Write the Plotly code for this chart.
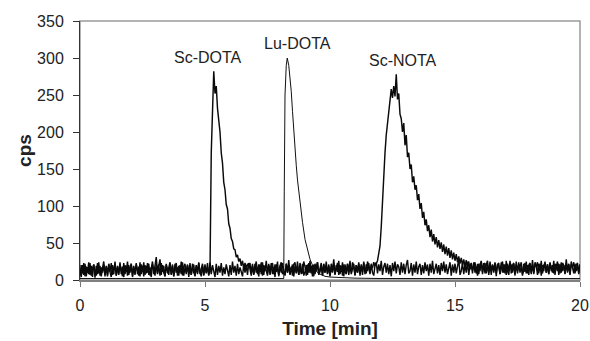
import plotly.graph_objects as go

# ---------------- data ----------------
time_step = 0.05  # min between samples of the noisy detector traces

sc_dota_pre = [
    6, 20, 9, 23, 5, 18, 10, 24, 7, 19,
    4, 21, 12, 6, 23, 9, 19, 5, 16, 25,
    8, 18, 5, 21, 11, 23, 7, 17, 22, 6,
    19, 9, 24, 8, 18, 4, 20, 11, 25, 7,
    17, 22, 6, 19, 9, 23, 8, 18, 5, 21,
    11, 24, 7, 19, 10, 22, 6, 17, 25, 8,
    18, 31, 9, 21, 6, 23, 11, 19, 5, 22,
    9, 18, 24, 7, 21, 5, 16, 23, 6, 19,
    10, 25, 6, 18, 22, 8, 20, 9, 23, 7,
    17, 21, 5, 19, 10, 24, 8, 18, 22, 6,
    19, 9, 23, 7, 12,
]
sc_dota_peak = [
    172, 246, 282, 252, 262, 232, 218, 200, 172, 158,
    132, 122, 102, 96, 76, 70, 56, 52, 42, 41,
    31, 34, 25, 29, 19, 26, 16, 23, 14, 22,
]
sc_dota_post = [
    18, 23, 9, 22, 7, 19, 25, 8, 21, 11,
    24, 6, 20, 12, 26, 9, 22, 7, 18, 23,
    8, 21, 11, 25, 5, 19, 10, 23, 13, 7,
    22, 10, 27, 8, 18, 6, 21, 24, 9, 19,
    7, 23, 12, 9, 25, 18, 6, 21, 10, 26,
    9, 20, 5, 22, 12, 24, 8, 18, 23, 7,
    21, 10, 25, 9, 19, 6, 22, 12, 28, 8,
    18, 23, 7, 20, 11, 24, 5, 21, 9, 22,
    12, 26, 8, 18, 22, 6, 20, 10, 24, 9,
    21, 7, 23, 12, 9, 25, 18, 8, 22, 10,
    6, 20, 24, 9, 21, 12, 26, 7, 18, 23,
    10, 22, 8, 20, 5, 23, 12, 25, 9, 21,
    18, 7, 24, 10, 22, 8, 20, 27, 9, 12,
    23, 6, 21, 10, 25, 8, 18, 22, 7, 20,
    9, 24, 12, 21, 6, 22, 10, 26, 8, 18,
    22, 9, 20, 7, 23, 12, 25, 10, 21, 8,
    18, 24, 6, 21, 10, 22, 9, 20, 28, 7,
    12, 23, 8, 21, 10, 25, 7, 20, 22, 9,
    24, 10, 18, 6, 22, 12, 26, 8, 20, 23,
    9, 21, 7, 25, 12, 20, 10, 23, 5, 22,
    18, 8, 24, 10, 21, 9, 26, 12, 7, 23,
    20, 10, 22, 6, 25, 9, 21, 18, 24, 8,
    12, 23, 9, 20, 7, 22, 10, 27, 8, 21,
    18, 24, 9, 22, 6, 20, 12, 25, 10, 21,
    8, 23, 18, 10, 26, 7, 21, 12, 22, 9,
    24, 12, 20, 8, 23, 10, 21, 7, 25, 18,
    9, 22, 12, 20, 8, 21,
]

sc_nota_pre = [
    14, 4, 20, 7, 22, 5, 17, 8, 23, 6,
    16, 21, 3, 19, 8, 24, 6, 17, 10, 21,
    5, 19, 7, 22, 11, 4, 20, 8, 25, 6,
    17, 7, 21, 10, 5, 23, 8, 19, 6, 20,
    10, 22, 4, 17, 7, 21, 11, 6, 24, 8,
    19, 5, 20, 9, 23, 7, 17, 4, 21, 11,
    6, 22, 8, 19, 28, 7, 20, 10, 5, 21,
    11, 7, 23, 8, 19, 5, 22, 10, 17, 6,
    20, 8, 24, 6, 17, 10, 21, 4, 19, 7,
    22, 10, 6, 20, 8, 23, 11, 5, 19, 7,
    21, 10, 17, 6, 24, 8, 20, 11, 4, 22,
    7, 19, 10, 23, 6, 17, 8, 21, 11, 5,
    20, 7, 25, 10, 19, 6, 22, 8, 17, 11,
    5, 21, 10, 20, 7, 23, 11, 6, 19, 8,
    22, 10, 17, 5, 21, 8, 24, 7, 19, 11,
    6, 20, 10, 23, 8, 17, 4, 21, 11, 7,
    19, 24, 8, 11, 6, 22, 10, 20, 7, 17,
    21, 5, 19, 10, 25, 7, 17, 8, 22, 6,
    11, 20, 7, 23, 10, 19, 5, 21, 8, 17,
    24, 7, 11, 20, 6, 22, 10, 19, 8, 21,
    5, 17, 10, 23, 7, 20, 11, 26, 8, 19,
    6, 21, 11, 8, 22, 7, 19, 10, 24, 17,
    7, 20, 10, 22, 6, 19, 11, 25, 8, 21,
    12, 23, 10, 20, 16, 24, 19,
]
sc_nota_peak = [
    22, 26, 36, 46, 72, 105, 150, 172, 196, 214,
    232, 240, 258, 246, 262, 248, 278, 244, 252, 224,
    218, 200, 212, 182, 196, 166, 172, 150, 156, 132,
    140, 122, 128, 108, 116, 96, 104, 84, 92, 74,
    82, 66, 74, 58, 68, 52, 62, 48, 58, 44,
    54, 42, 51, 38, 48, 35, 45, 33, 43, 30,
    40, 28, 37, 26, 35, 24, 32, 22, 30, 20,
    28, 18, 27, 16, 25, 14, 23, 13,
]
sc_nota_post = [
    19, 24, 9, 22, 8, 21, 25, 11, 23, 9,
    20, 26, 10, 22, 7, 21, 12, 24, 9, 20,
    23, 8, 19, 25, 10, 21, 7, 22, 12, 26,
    9, 20, 23, 8, 21, 12, 24, 10, 19, 6,
    22, 11, 25, 9, 20, 23, 8, 21, 10, 24,
    19, 7, 22, 12, 26, 9, 20, 23, 10, 21,
    8, 24, 12, 20, 9, 22, 18, 25, 7, 21,
    10, 23, 20, 9, 28, 12, 22, 8, 21, 18,
    24, 9, 20, 23, 10, 21,
]

lu_dota_time = [0, 4.0, 8.15, 8.17, 8.20, 8.25, 8.29, 8.35, 8.40, 8.45,
                8.50, 8.55, 8.60, 8.65, 8.70, 8.80, 8.90, 9.00, 9.10, 9.20,
                9.30, 9.40, 9.50, 9.60, 9.80, 10.0, 10.5, 11.0, 12.0, 15.0, 20.0]
lu_dota_cps = [2, 2, 2, 120, 250, 290, 300, 290, 275, 255,
               228, 200, 178, 155, 135, 105, 78, 55, 40, 28,
               20, 14, 10, 8, 5, 4, 3, 2.5, 2, 2, 2]

peak_labels = ["Sc-DOTA", "Lu-DOTA", "Sc-NOTA"]
label_time = [5.12, 8.7, 12.92]
label_cps = [301, 320, 297]

x_ticks = [0, 5, 10, 15, 20]
y_ticks = [0, 50, 100, 150, 200, 250, 300, 350]

# ---------------- figure ----------------
sc_dota = sc_dota_pre + sc_dota_peak + sc_dota_post
sc_nota = sc_nota_pre + sc_nota_peak + sc_nota_post

fig = go.Figure()
fig.add_trace(go.Scatter(y=sc_nota, x0=0, dx=time_step, mode="lines",
                         line=dict(color="#0a0a0a", width=1.45)))
fig.add_trace(go.Scatter(y=sc_dota, x0=0, dx=time_step, mode="lines",
                         line=dict(color="#0a0a0a", width=1.45)))
fig.add_trace(go.Scatter(x=lu_dota_time, y=lu_dota_cps, mode="lines",
                         line=dict(color="#111111", width=1)))

font_family = "Liberation Sans, Arial"
for txt, xv, yv in zip(peak_labels, label_time, label_cps):
    fig.add_annotation(x=xv, y=yv, text=txt, showarrow=False,
                       font=dict(family=font_family, size=16, color="#222222"))

fig.add_shape(type="rect", xref="paper", yref="paper", x0=0, y0=0, x1=1, y1=1,
              line=dict(color="#9a9a9a", width=1.5), layer="below")

fig.update_layout(
    width=590, height=341,
    margin=dict(l=80, r=10, t=21, b=61, autoexpand=False),
    paper_bgcolor="white", plot_bgcolor="white",
    showlegend=False,
    font=dict(family=font_family, size=16, color="#222222"),
    xaxis=dict(range=[0, 20], tickvals=x_ticks, ticks="outside", ticklen=5,
               tickcolor="#777777", showgrid=False, zeroline=False,
               showline=True, linecolor="#808080", linewidth=1.5,
               ticklabelstandoff=5, automargin=False,
               tickfont=dict(size=16, color="#222222"),
               title=dict(text="<b>Time [min]</b>", font=dict(size=19, color="#222222"),
                          standoff=9)),
    yaxis=dict(range=[0, 350], tickvals=y_ticks, ticks="outside", ticklen=6,
               tickcolor="#333333", showgrid=False, zeroline=False,
               showline=True, linecolor="#333333", linewidth=1,
               ticklabelstandoff=6, automargin=False,
               tickfont=dict(size=16, color="#222222"),
               title=dict(text="<b>cps</b>", font=dict(size=19, color="#222222"),
                          standoff=0)),
)

fig.write_html("out.html", config={"displayModeBar": False},
               post_script="document.body.style.margin='0px';document.body.style.overflow='hidden';")
